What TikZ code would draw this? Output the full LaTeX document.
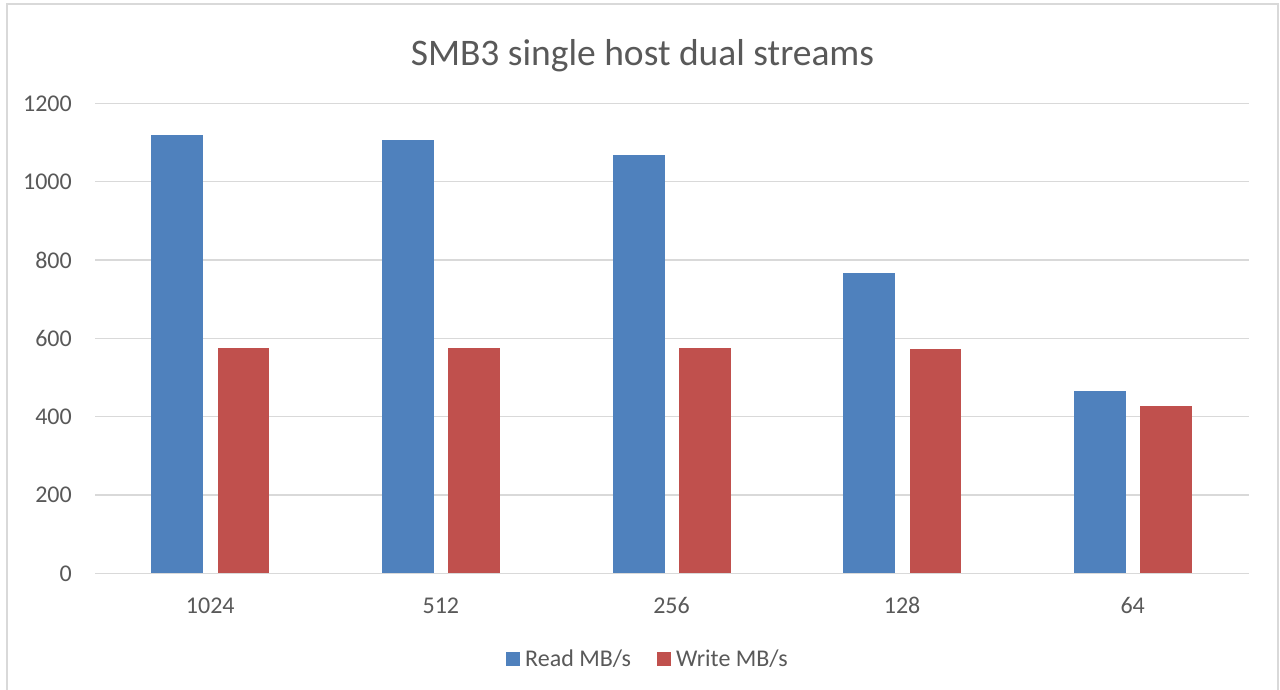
\documentclass[tikz,border=0pt]{standalone}
\usepackage{fontspec}
\setmainfont{Carlito}
\definecolor{readblue}{HTML}{4F81BD}
\definecolor{writered}{HTML}{C0504D}
\definecolor{gridgray}{HTML}{D9D9D9}
\definecolor{labelgray}{HTML}{595959}
\begin{document}
\begin{tikzpicture}[x=1pt,y=-1pt,
  gridline/.style={draw=gridgray,line width=1.5pt},
  frameline/.style={draw=gridgray,line width=1.5pt},
  ticklabel/.style={text=labelgray,font=\fontsize{24}{28}\selectfont,inner sep=0pt},
  catlabel/.style={text=labelgray,font=\fontsize{24}{28}\selectfont,inner sep=0pt,anchor=base},
  titlelabel/.style={text=labelgray,font=\fontsize{37.5}{44}\selectfont,inner sep=0pt,anchor=base},
  legendlabel/.style={text=labelgray,font=\fontsize{24}{28}\selectfont,inner sep=0pt,anchor=base west},
  readbar/.style={fill=readblue},
  writebar/.style={fill=writered}]
\useasboundingbox[fill=white] (0,0) rectangle (1280,690);
% chart frame (bottom edge lies below the page)
\draw[frameline] (7,690) -- (7,4) -- (1278,4) -- (1278,690);
% title
\node[titlelabel] (title) at (642.5,66) {SMB3 single host dual streams};
% horizontal grid and value axis labels
\foreach \v in {0,200,...,1200}{
  \pgfmathsetmacro{\yy}{573.3-\v*0.39167}
  \draw[gridline] (95,\yy) -- (1249,\yy);
  \node[ticklabel,anchor=east] (tick\v) at (72,\yy) {\v};
}
% bars: category centre, read, write, label
\foreach \cx/\rd/\wr/\lab in {210.3/1119/575/1024, 440.9/1106/575/512, 671.5/1068/575/256, 902.1/767/573/128, 1132.7/465/427/64}{
  \pgfmathsetmacro{\ry}{573.3-\rd*0.39167}
  \pgfmathsetmacro{\wy}{573.3-\wr*0.39167}
  \fill[readbar] (\cx-59,573.3) rectangle (\cx-7,\ry);
  \fill[writebar] (\cx+7.5,573.3) rectangle (\cx+59,\wy);
  \node[catlabel] (cat\lab) at (\cx,613) {\lab};
}
% legend
\fill[readbar] (506,652) rectangle (520,666);
\node[legendlabel] (legread) at (525,666) {Read MB/s};
\fill[writebar] (657,652) rectangle (671,666);
\node[legendlabel] (legwrite) at (676,666) {Write MB/s};
\end{tikzpicture}
\end{document}
